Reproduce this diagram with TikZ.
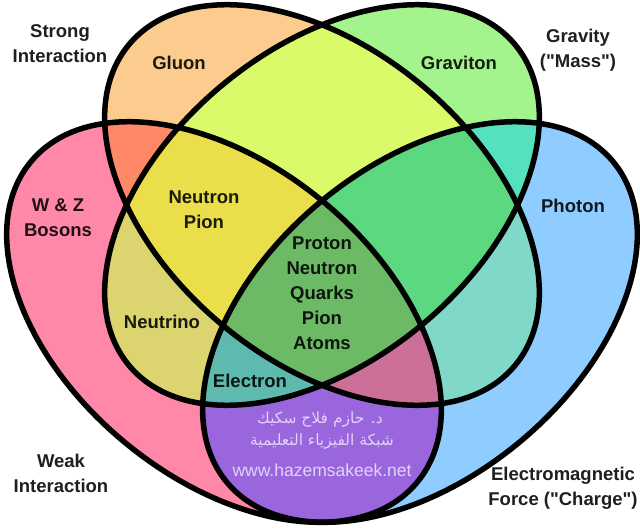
\documentclass[tikz,border=0pt]{standalone}
\usepackage{fontspec}
\setmainfont{Liberation Sans}
\newfontfamily\labfont{Liberation Sans}
\newfontfamily\arabicfont[Script=Arabic]{DejaVu Sans}
\TeXXeTstate=1
\definecolor{cS}{HTML}{FCCB8E}
\definecolor{cG}{HTML}{A4F48E}
\definecolor{cW}{HTML}{FF88A8}
\definecolor{cE}{HTML}{8FCCFF}
\definecolor{cSG}{HTML}{DAFA6A}
\definecolor{cSW}{HTML}{FF8866}
\definecolor{cSE}{HTML}{80D8C8}
\definecolor{cGW}{HTML}{DCD46E}
\definecolor{cGE}{HTML}{55E0C0}
\definecolor{cWE}{HTML}{9966DD}
\definecolor{cSGW}{HTML}{EADE4A}
\definecolor{cSGE}{HTML}{5CD980}
\definecolor{cSWE}{HTML}{CC7099}
\definecolor{cGWE}{HTML}{5EBAAE}
\definecolor{cAll}{HTML}{6DBA66}
\definecolor{wmark}{HTML}{E2D2F6}
\begin{document}
\begin{tikzpicture}[x=1pt,y=1pt,
  shS/.style={shift={(322,326)},rotate=-39.7},
  shW/.style={shift={(224,209)},rotate=-39.7},
  shG/.style={shift={(322,326)},rotate=39.7},
  shE/.style={shift={(420,209)},rotate=39.7},
  lab/.style={font=\labfont\fontsize{18.5}{25}\selectfont\bfseries, align=center, text=black, text opacity=0.88, inner sep=0pt},
  arab/.style={font=\arabicfont\fontsize{15.5}{18}\selectfont, text=wmark, inner sep=0pt},
  url/.style={font=\labfont\fontsize{17.5}{20}\selectfont, text=wmark, inner sep=0pt},
  outline/.style={draw=black, line width=5.5pt}]
\def\ovl{(0,0) ellipse [x radius=251pt, y radius=156pt]}
\fill[white] (0,0) rectangle (640,531);
\useasboundingbox (0,0) rectangle (640,531);
% single sets
\fill[cS,shS]\ovl;
\fill[cG,shG]\ovl;
\fill[cW,shW]\ovl;
\fill[cE,shE]\ovl;
% pairs
\begin{scope}\clip[shS]\ovl;\fill[cSG,shG]\ovl;\end{scope}
\begin{scope}\clip[shS]\ovl;\fill[cSW,shW]\ovl;\end{scope}
\begin{scope}\clip[shS]\ovl;\fill[cSE,shE]\ovl;\end{scope}
\begin{scope}\clip[shG]\ovl;\fill[cGW,shW]\ovl;\end{scope}
\begin{scope}\clip[shG]\ovl;\fill[cGE,shE]\ovl;\end{scope}
\begin{scope}\clip[shW]\ovl;\fill[cWE,shE]\ovl;\end{scope}
% triples
\begin{scope}\clip[shS]\ovl;\clip[shG]\ovl;\fill[cSGW,shW]\ovl;\end{scope}
\begin{scope}\clip[shS]\ovl;\clip[shG]\ovl;\fill[cSGE,shE]\ovl;\end{scope}
\begin{scope}\clip[shS]\ovl;\clip[shW]\ovl;\fill[cSWE,shE]\ovl;\end{scope}
\begin{scope}\clip[shG]\ovl;\clip[shW]\ovl;\fill[cGWE,shE]\ovl;\end{scope}
% all four
\begin{scope}\clip[shS]\ovl;\clip[shG]\ovl;\clip[shW]\ovl;\fill[cAll,shE]\ovl;\end{scope}
% outlines
\draw[outline,shS]\ovl;
\draw[outline,shG]\ovl;
\draw[outline,shW]\ovl;
\draw[outline,shE]\ovl;
% labels
\node[lab] (strongL) at (60,487.5) {Strong\\Interaction};
\node[lab] (gravL) at (578,481) {Gravity\\("Mass")};
\node[lab] (weakL) at (61,57.5) {Weak\\Interaction};
\node[lab] (emL) at (563,43) {Electromagnetic\\Force ("Charge")};
\node[lab] (gluon) at (179,468) {Gluon};
\node[lab] (graviton) at (459,468) {Graviton};
\node[lab] (wz) at (58,313.5) {W \& Z\\Bosons};
\node[lab] (photon) at (573,325) {Photon};
\node[lab] (np) at (204,321) {Neutron\\Pion};
\node[lab] (neutrino) at (162,209) {Neutrino};
\node[lab] (centre) at (322,238) {Proton\\Neutron\\Quarks\\Pion\\Atoms};
\node[lab] (electron) at (250,150) {Electron};
\node[arab] (ar1) at (320,111) {\beginR د. حازم فلاح سكيك\endR};
\node[arab] (ar2) at (322,89) {\beginR شبكة الفيزياء التعليمية\endR};
\node[url] (site) at (322,61) {www.hazemsakeek.net};
\end{tikzpicture}
\end{document}
